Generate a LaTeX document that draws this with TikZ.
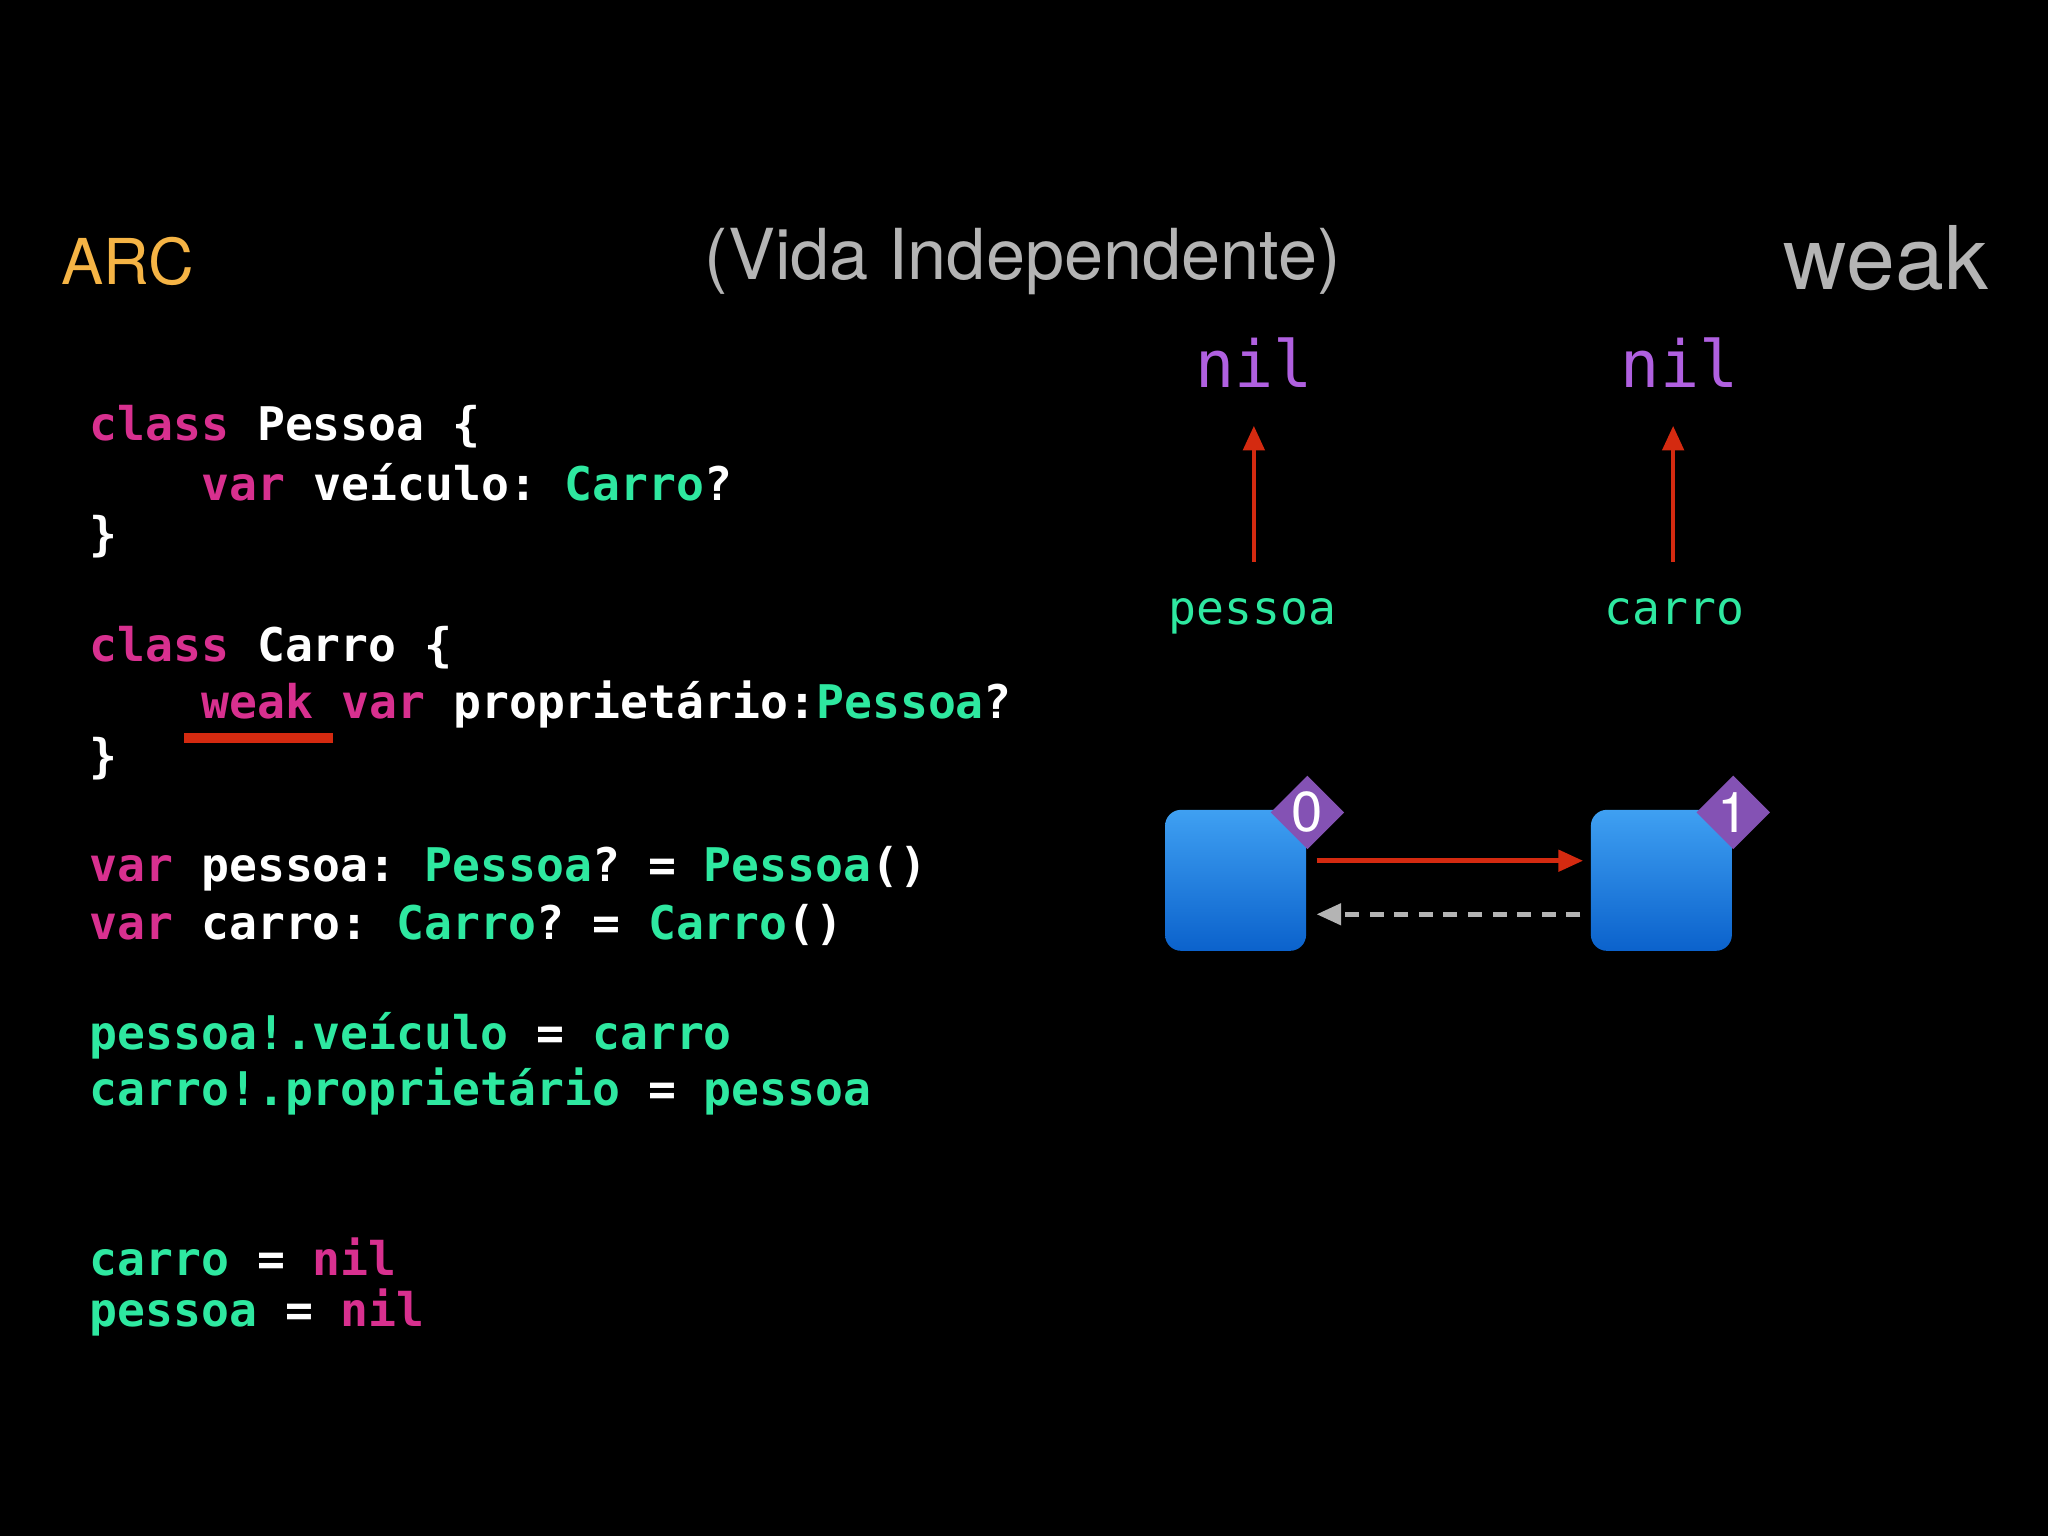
\documentclass[tikz,border=0pt]{standalone}
\usepackage{fontspec}
\setmainfont{TeX Gyre Heros}
\setmonofont{DejaVu Sans Mono}
\usetikzlibrary{shapes.geometric,arrows.meta}
\definecolor{kw}{HTML}{D8308F}
\definecolor{ty}{HTML}{2EE8A0}
\definecolor{nilc}{HTML}{B060E0}
\definecolor{arc}{HTML}{F5B445}
\definecolor{ttl}{HTML}{B4B4B4}
\definecolor{rd}{HTML}{D42A10}
\definecolor{btop}{HTML}{3FA0F2}
\definecolor{bbot}{HTML}{0B62CC}
\definecolor{bdg}{HTML}{8452B4}
\newcommand{\K}[1]{\textcolor{kw}{#1}}
\newcommand{\T}[1]{\textcolor{ty}{#1}}
\begin{document}
\begin{tikzpicture}[x=0.013061cm,y=-0.013061cm,
  code/.style={anchor=west,inner sep=0,text=white,font=\ttfamily\bfseries\fontsize{13.2}{16}\selectfont},
  big/.style={inner sep=0,text=nilc,font=\ttfamily\fontsize{18.5}{22}\selectfont},
  obj/.style={minimum size=1.41cm,inner sep=0,rounded corners=0.16cm,top color=btop,bottom color=bbot},
  badge/.style={diamond,fill=bdg,minimum size=0.74cm,inner sep=0,text=white,font=\fontsize{16}{18}\selectfont},
  tip/.style={-{Triangle[length=7pt,width=6pt]}},
  rarr/.style={draw=rd,line width=1.3pt,tip}]
\fill[black] (0,0) rectangle (1568,1176);
\useasboundingbox (0,0) rectangle (1568,1176);
\node[inner sep=0,text=arc,font=\fontsize{18}{22}\selectfont] (arc) at (98,200) {ARC};
\node[inner sep=0,text=ttl,font=\fontsize{20}{24}\selectfont] (title) at (783,200) {(Vida Independente)};
\node[inner sep=0,text=ttl,font=\fontsize{25}{30}\selectfont] (weak) at (1444,198) {weak};
\node[code] (l1) at (68,327) {\K{class} Pessoa \{};
\node[code] (l2) at (154,369) {\K{var} veículo: \T{Carro}?};
\node[code] (l3) at (68,411) {\}};
\node[code] (l4) at (68,496) {\K{class} Carro \{};
\node[code] (l5) at (154,539) {\K{weak} \K{var} proprietário:\T{Pessoa}?};
\node[code] (l6) at (68,581) {\}};
\node[code] (l7) at (68,665) {\K{var} pessoa: \T{Pessoa}? = \T{Pessoa}()};
\node[code] (l8) at (68,708) {\K{var} carro: \T{Carro}? = \T{Carro}()};
\node[code] (l9) at (68,793) {\T{pessoa!.veículo} = \T{carro}};
\node[code] (l10) at (68,836) {\T{carro!.proprietário} = \T{pessoa}};
\node[code] (l11) at (68,962) {\T{carro} = \K{nil}};
\node[code] (l12) at (68,1005) {\T{pessoa} = \K{nil}};
\draw[rd,line width=2.6pt] (141,565) -- (255,565);
\node[big] (nil1) at (960,278) {nil};
\node[big] (nil2) at (1286,278) {nil};
\node[code,font=\ttfamily\fontsize{13.2}{16}\selectfont,anchor=base] (pes) at (959,478) {\T{pessoa}};
\node[code,font=\ttfamily\fontsize{13.2}{16}\selectfont,anchor=base] (car) at (1282,478) {\T{carro}};
\coordinate (p0) at (960,430); \coordinate (p1) at (960,326);
\coordinate (c0) at (1281,430); \coordinate (c1) at (1281,326);
\draw[rarr] (p0) -- (p1);
\draw[rarr] (c0) -- (c1);
\node[obj] (b1) at (946,674) {};
\node[obj] (b2) at (1272,674) {};
\node[badge] (g1) at (1001,622) {0};
\node[badge] (g2) at (1327,622) {1};
\coordinate (a0) at (1008,659); \coordinate (a1) at (1212,659);
\coordinate (d0) at (1210,700); \coordinate (d1) at (1008,700);
\draw[rarr] (a0) -- (a1);
\draw[draw=ttl,line width=1.3pt,dash pattern=on 4pt off 3pt,tip] (d0) -- (d1);
\end{tikzpicture}
\end{document}
